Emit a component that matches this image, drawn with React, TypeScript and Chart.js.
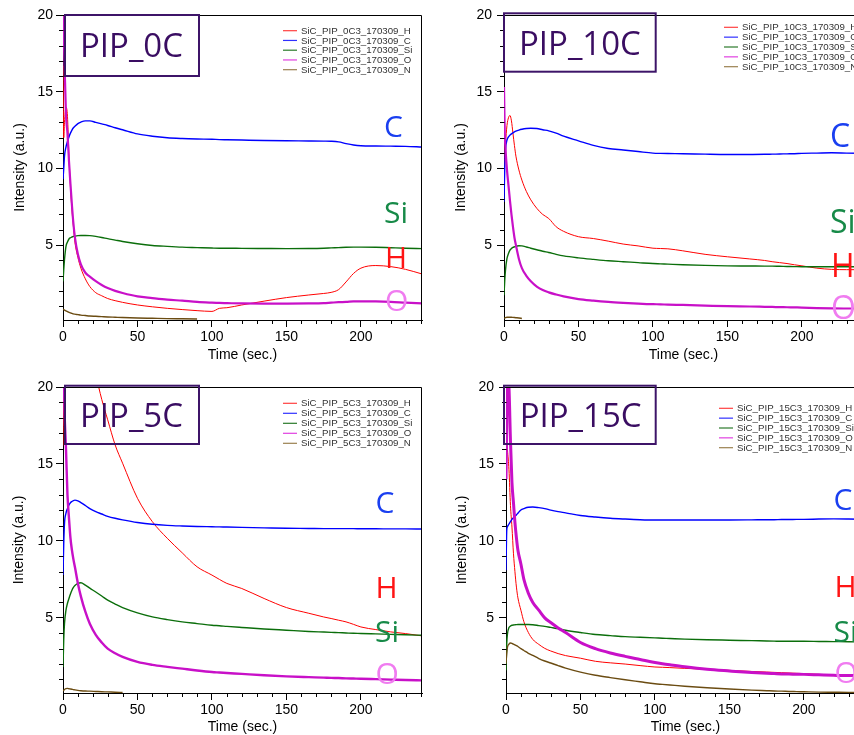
import React, { useEffect, useRef } from "react";
import { Chart, registerables } from "chart.js";
Chart.register(...registerables);

// ---------- data ----------
const TIME = [0, 0.5, 1, 2, 3, 4, 5, 6, 7, 8, 10, 12, 15, 18, 22, 26, 30, 35, 40, 50, 60, 70, 80, 90, 100, 105, 110, 120, 135, 150, 165, 175, 180, 185, 190, 195, 200, 210, 220, 230, 241];

const H_0C = [16.7, 12.0, 13.0, 14.0, 13.4, 10.8, 8.8, 7.3, 6.2, 5.2, 4.2, 3.5, 2.8, 2.3, 1.9, 1.7, 1.52, 1.38, 1.27, 1.1, 0.98, 0.88, 0.8, 0.73, 0.68, 0.88, 0.92, 1.1, 1.35, 1.58, 1.75, 1.85, 1.92, 2.1, 2.6, 3.15, 3.5, 3.67, 3.6, 3.42, 3.12];
const C_0C = [9.3, 10.0, 10.8, 11.4, 11.75, 12.05, 12.3, 12.5, 12.65, 12.75, 12.92, 13.02, 13.1, 13.1, 13.0, 12.9, 12.8, 12.65, 12.52, 12.25, 12.1, 12.0, 11.95, 11.92, 11.9, 11.88, 11.87, 11.85, 11.82, 11.8, 11.79, 11.78, 11.77, 11.73, 11.62, 11.53, 11.48, 11.46, 11.45, 11.44, 11.4];
const SI_0C = [2.64, 3.4, 4.05, 4.92, 5.2, 5.4, 5.48, 5.53, 5.57, 5.59, 5.62, 5.63, 5.63, 5.62, 5.57, 5.5, 5.42, 5.33, 5.24, 5.09, 4.98, 4.92, 4.87, 4.84, 4.81, 4.8, 4.8, 4.79, 4.78, 4.77, 4.78, 4.8, 4.82, 4.84, 4.86, 4.87, 4.87, 4.86, 4.83, 4.8, 4.77];
const O_0C = [21, 19, 17, 13.5, 12.3, 10.5, 9.0, 7.6, 6.4, 5.5, 4.4, 3.75, 3.2, 2.95, 2.65, 2.4, 2.2, 2.02, 1.88, 1.66, 1.55, 1.45, 1.38, 1.3, 1.25, 1.23, 1.22, 1.2, 1.19, 1.19, 1.2, 1.22, 1.25, 1.28, 1.3, 1.33, 1.34, 1.33, 1.3, 1.25, 1.2];
const N_0C = [0.84, 0.8, 0.77, 0.72, 0.67, 0.62, 0.58, 0.55, 0.52, 0.5, 0.47, 0.44, 0.41, 0.38, 0.36, 0.34, 0.32, 0.3, 0.28, 0.25, 0.23, 0.21, 0.2, 0.19, null, null, null, null, null, null, null, null, null, null, null, null, null, null, null, null, null];

const H_10C = [10.2, 10.8, 11.6, 12.8, 13.3, 13.45, 13.1, 12.3, 11.5, 10.8, 9.9, 9.24, 8.5, 7.95, 7.4, 7.0, 6.74, 6.2, 5.9, 5.55, 5.43, 5.26, 5.07, 4.95, 4.8, 4.78, 4.76, 4.63, 4.4, 4.24, 4.1, 4.0, 3.92, 3.86, 3.8, 3.72, 3.65, 3.5, 3.42, 3.4, 3.4];
const C_10C = [7.83, 10.0, 11.2, 11.85, 12.05, 12.17, 12.25, 12.32, 12.38, 12.43, 12.5, 12.55, 12.6, 12.62, 12.6, 12.52, 12.45, 12.3, 12.1, 11.8, 11.5, 11.3, 11.2, 11.1, 11.0, 10.98, 10.97, 10.96, 10.93, 10.91, 10.91, 10.92, 10.93, 10.94, 10.95, 10.96, 10.98, 11.0, 11.02, 11.0, 10.98];
const SI_10C = [1.74, 2.7, 3.37, 4.13, 4.45, 4.67, 4.78, 4.85, 4.89, 4.93, 4.96, 4.95, 4.88, 4.8, 4.7, 4.6, 4.52, 4.4, 4.3, 4.17, 4.07, 3.98, 3.92, 3.86, 3.8, 3.78, 3.76, 3.72, 3.68, 3.65, 3.64, 3.63, 3.63, 3.62, 3.61, 3.6, 3.59, 3.59, 3.59, 3.59, 3.59];
const O_10C = [15.3, 12.3, 11.3, 9.9, 8.9, 7.9, 7.0, 6.2, 5.5, 5.0, 4.1, 3.5, 3.0, 2.65, 2.3, 2.07, 1.92, 1.78, 1.66, 1.48, 1.38, 1.3, 1.24, 1.19, 1.15, 1.14, 1.12, 1.1, 1.06, 1.02, 1.0, 0.98, 0.97, 0.96, 0.95, 0.94, 0.93, 0.9, 0.88, 0.87, 0.87];
const N_10C = [0.22, 0.25, 0.28, 0.3, 0.3, 0.3, 0.3, 0.29, 0.28, 0.27, 0.25, 0.22, null, null, null, null, null, null, null, null, null, null, null, null, null, null, null, null, null, null, null, null, null, null, null, null, null, null, null, null, null];

const H_5C = [16.2, 21, 24, 26, 27, 27.5, 27.5, 27.3, 27.0, 26.6, 25.8, 25.0, 23.8, 22.5, 20.8, 19.2, 17.87, 16.24, 15.05, 12.77, 11.25, 10.17, 9.23, 8.32, 7.78, 7.5, 7.24, 6.91, 6.26, 5.67, 5.3, 5.06, 4.96, 4.85, 4.74, 4.58, 4.41, 4.24, 4.09, 3.98, 3.83];
const C_5C = [7.78, 9.84, 11.14, 11.8, 12.1, 12.34, 12.48, 12.56, 12.62, 12.65, 12.6, 12.49, 12.3, 12.1, 11.9, 11.75, 11.6, 11.47, 11.37, 11.2, 11.08, 11.01, 10.97, 10.94, 10.92, 10.91, 10.9, 10.88, 10.85, 10.82, 10.81, 10.8, 10.8, 10.8, 10.8, 10.8, 10.79, 10.79, 10.78, 10.78, 10.77];
const SI_5C = [1.81, 3.6, 4.63, 5.5, 5.95, 6.26, 6.55, 6.8, 6.98, 7.1, 7.24, 7.28, 7.13, 6.93, 6.68, 6.42, 6.15, 5.9, 5.67, 5.33, 5.07, 4.89, 4.74, 4.63, 4.52, 4.49, 4.45, 4.38, 4.28, 4.2, 4.12, 4.08, 4.06, 4.04, 4.02, 4.0, 3.99, 3.96, 3.93, 3.9, 3.87];
const O_5C = [24, 21, 18.5, 16.0, 13.0, 11.5, 10.2, 9.4, 8.8, 8.3, 7.24, 6.4, 5.4, 4.62, 3.9, 3.4, 3.0, 2.7, 2.46, 2.14, 1.95, 1.82, 1.7, 1.58, 1.48, 1.45, 1.42, 1.36, 1.27, 1.2, 1.15, 1.12, 1.1, 1.09, 1.07, 1.06, 1.05, 1.02, 0.99, 0.96, 0.94];
const N_5C = [0.25, 0.3, 0.35, 0.4, 0.42, 0.4, 0.38, 0.36, 0.34, 0.32, 0.29, 0.27, 0.25, 0.24, 0.22, 0.2, 0.19, 0.17, 0.16, null, null, null, null, null, null, null, null, null, null, null, null, null, null, null, null, null, null, null, null, null, null];

const H_15C = [14.83, 16.68, 15.92, 14.62, 12.3, 10.9, 9.2, 8.0, 7.0, 6.3, 5.5, 4.75, 4.05, 3.6, 3.28, 3.02, 2.85, 2.68, 2.55, 2.38, 2.18, 2.08, 2.0, 1.9, 1.81, 1.79, 1.77, 1.72, 1.66, 1.59, 1.52, 1.48, 1.46, 1.44, 1.42, 1.4, 1.38, 1.33, 1.28, 1.27, 1.27];
const C_15C = [8.1, 10.7, 10.93, 11.1, 11.25, 11.4, 11.5, 11.6, 11.69, 11.8, 12.01, 12.1, 12.19, 12.2, 12.16, 12.1, 12.0, 11.9, 11.82, 11.65, 11.55, 11.47, 11.42, 11.38, 11.36, 11.36, 11.36, 11.36, 11.36, 11.36, 11.37, 11.38, 11.38, 11.39, 11.39, 11.4, 11.4, 11.42, 11.43, 11.42, 11.4];
const SI_15C = [1.59, 3.33, 3.98, 4.37, 4.47, 4.52, 4.54, 4.55, 4.56, 4.57, 4.57, 4.57, 4.57, 4.55, 4.5, 4.45, 4.38, 4.3, 4.2, 4.05, 3.92, 3.85, 3.78, 3.74, 3.7, 3.68, 3.66, 3.62, 3.58, 3.55, 3.52, 3.5, 3.49, 3.48, 3.48, 3.48, 3.48, 3.47, 3.46, 3.45, 3.44];
const O_15C = [14, 18, 21, 20, 16.5, 13.8, 12.5, 11.2, 10.2, 9.4, 8.5, 7.5, 6.6, 6.0, 5.5, 5.0, 4.7, 4.35, 4.05, 3.4, 3.0, 2.72, 2.5, 2.3, 2.1, 2.02, 1.95, 1.82, 1.66, 1.55, 1.45, 1.4, 1.38, 1.36, 1.35, 1.34, 1.33, 1.3, 1.27, 1.25, 1.28];
const N_15C = [2.03, 2.7, 3.11, 3.3, 3.37, 3.35, 3.29, 3.24, 3.19, 3.14, 3.0, 2.88, 2.7, 2.56, 2.36, 2.2, 2.07, 1.9, 1.74, 1.48, 1.27, 1.12, 0.98, 0.85, 0.72, 0.68, 0.64, 0.56, 0.46, 0.38, 0.31, 0.27, 0.25, 0.24, 0.22, 0.21, 0.2, 0.18, 0.17, 0.16, 0.16];

const ELEMENTS = ["H", "C", "Si", "O", "N"];
const X_MAJOR = [0, 50, 100, 150, 200];
const Y_MAJOR = [5, 10, 15, 20];
const X_MINOR = [10, 20, 30, 40, 60, 70, 80, 90, 110, 120, 130, 140, 160, 170, 180, 190, 210, 220, 230, 240];
const Y_MINOR = [1, 2, 3, 4, 6, 7, 8, 9, 11, 12, 13, 14, 16, 17, 18, 19];
const X_RANGE = [0, 241];
const Y_RANGE = [0.12, 20];

// ---------- styles ----------
const LINE_COLORS = ["#ff0000", "#0000ff", "#0b6e0b", "#c810c8", "#6b4c12"];
const LEGEND_COLORS = ["#ff4040", "#3030ff", "#2a7a2a", "#e040e0", "#9a8050"];
const LABEL_COLORS: Record<string, string> = { C: "#1a3ff0", Si: "#178a48", H: "#ff1414", O: "#f07cf0" };
const SANS = '"Liberation Sans", Arial, Helvetica, sans-serif';
const TITLE_FONT = '"Open Sans", "Noto Sans", sans-serif';

type Panel = {
  code: string;
  series: (number | null)[][];
  widths: number[];
  left: number; top: number; w: number; h: number;
  area: { l: number; t: number; r: number; b: number };
  yTitlePad: number; xTitlePad: number; yTickPad: number;
  box: { x: number; y: number; w: number; h: number; tx: number; ty: number };
  legend: { x: number; y: number; dy: number };
  labelSize: number;
  labels: { text: string; x: number; y: number }[];
};

const PANELS: Panel[] = [
  {
    code: "0C", series: [H_0C, C_0C, SI_0C, O_0C, N_0C], widths: [1, 1.4, 1.4, 2.2, 1.4],
    left: 0, top: 0, w: 427, h: 368, area: { l: 63, t: 15, r: 422, b: 320 },
    yTitlePad: 11.6, xTitlePad: 4.1, yTickPad: 3,
    box: { x: 65, y: 15, w: 134, h: 61, tx: 80, ty: 57.3 },
    legend: { x: 283, y: 30.7, dy: 9.75 },
    labelSize: 30,
    labels: [{ text: "C", x: 384, y: 137 }, { text: "Si", x: 384, y: 223 }, { text: "H", x: 385, y: 268 }, { text: "O", x: 385, y: 311 }],
  },
  {
    code: "10C", series: [H_10C, C_10C, SI_10C, O_10C, N_10C], widths: [1, 1.4, 1.4, 2.2, 1.4],
    left: 427, top: 0, w: 450, h: 368, area: { l: 77, t: 15, r: 436, b: 320 },
    yTitlePad: 25.3, xTitlePad: 4.1, yTickPad: 5,
    box: { x: 77, y: 13.3, w: 151.7, h: 58.4, tx: 92, ty: 55 },
    legend: { x: 297, y: 27.3, dy: 9.85 },
    labelSize: 32,
    labels: [{ text: "C", x: 403, y: 146.7 }, { text: "Si", x: 403, y: 233.3 }, { text: "H", x: 404, y: 276.7 }, { text: "O", x: 404, y: 319 }],
  },
  {
    code: "5C", series: [H_5C, C_5C, SI_5C, O_5C, N_5C], widths: [1, 1.4, 1.4, 2.4, 1.4],
    left: 0, top: 372, w: 427, h: 368, area: { l: 63, t: 15, r: 422, b: 321 },
    yTitlePad: 10.8, xTitlePad: 4.1, yTickPad: 3,
    box: { x: 65, y: 13.7, w: 134, h: 58.3, tx: 80, ty: 54.7 },
    legend: { x: 283, y: 31.3, dy: 10 },
    labelSize: 30,
    labels: [{ text: "C", x: 375.5, y: 141.3 }, { text: "H", x: 375.5, y: 226.3 }, { text: "Si", x: 375, y: 269.7 }, { text: "O", x: 375.5, y: 312 }],
  },
  {
    code: "15C", series: [H_15C, C_15C, SI_15C, O_15C, N_15C], widths: [1, 1.4, 1.4, 3, 1.4],
    left: 429, top: 372, w: 450, h: 368, area: { l: 77, t: 15, r: 436, b: 321 },
    yTitlePad: 24.9, xTitlePad: 4.1, yTickPad: 5,
    box: { x: 75, y: 13.7, w: 151.7, h: 58.3, tx: 90.7, ty: 54.7 },
    legend: { x: 290, y: 36.3, dy: 9.85 },
    labelSize: 30,
    labels: [{ text: "C", x: 404.5, y: 138 }, { text: "H", x: 405.5, y: 224.7 }, { text: "Si", x: 404.5, y: 269.7 }, { text: "O", x: 405.5, y: 311.3 }],
  },
];

function makeDecor(p: Panel) {
  return {
    id: "decor" + p.code,
    afterDraw(chart: any) {
      const { ctx, chartArea: a, scales } = chart;
      const xs = scales.x;
      const ys = scales.y;
      ctx.save();
      // frame (top + right)
      ctx.strokeStyle = "#000";
      ctx.lineWidth = 1;
      ctx.beginPath();
      const top = Math.round(a.top) + 0.5;
      const right = Math.round(a.right) - 0.5;
      ctx.moveTo(a.left, top);
      ctx.lineTo(right, top);
      ctx.lineTo(right, a.bottom);
      ctx.stroke();
      // minor ticks
      ctx.beginPath();
      for (const v of Y_MINOR) {
        const py = Math.round(ys.getPixelForValue(v)) + 0.5;
        ctx.moveTo(a.left - 4, py);
        ctx.lineTo(a.left + 0.5, py);
      }
      for (const v of X_MINOR) {
        const px = Math.round(xs.getPixelForValue(v)) + 0.5;
        ctx.moveTo(px, a.bottom);
        ctx.lineTo(px, a.bottom + 4);
      }
      ctx.stroke();
      // title box
      ctx.strokeStyle = "#3d1468";
      ctx.lineWidth = 2;
      ctx.strokeRect(p.box.x, p.box.y, p.box.w, p.box.h);
      ctx.fillStyle = "#3a0d62";
      ctx.font = `33px ${TITLE_FONT}`;
      ctx.textAlign = "left";
      ctx.textBaseline = "alphabetic";
      ctx.fillText("PIP_" + p.code, p.box.tx, p.box.ty);
      // legend
      ctx.font = `9.7px ${SANS}`;
      ctx.textBaseline = "middle";
      ELEMENTS.forEach((el, i) => {
        const y = p.legend.y + i * p.legend.dy;
        ctx.strokeStyle = LEGEND_COLORS[i];
        ctx.lineWidth = 1.2;
        ctx.beginPath();
        ctx.moveTo(p.legend.x, y);
        ctx.lineTo(p.legend.x + 14, y);
        ctx.stroke();
        ctx.fillStyle = "#333";
        ctx.fillText(`SiC_PIP_${p.code}3_170309_${el}`, p.legend.x + 18, y + 0.5);
      });
      // element labels
      ctx.font = `${p.labelSize}px ${TITLE_FONT}`;
      ctx.textBaseline = "alphabetic";
      for (const lb of p.labels) {
        ctx.fillStyle = LABEL_COLORS[lb.text];
        ctx.fillText(lb.text, lb.x, lb.y);
      }
      ctx.restore();
    },
  };
}

function PanelChart({ p }: { p: Panel }) {
  const ref = useRef<HTMLCanvasElement>(null);
  useEffect(() => {
    const datasets = ELEMENTS.map((el, i) => ({
      label: `SiC_PIP_${p.code}3_170309_${el}`,
      data: TIME.map((t, k) => ({ x: t, y: p.series[i][k] })),
      borderColor: LINE_COLORS[i],
      backgroundColor: LINE_COLORS[i],
      borderWidth: p.widths[i],
      pointRadius: 0,
      fill: false,
      cubicInterpolationMode: "monotone" as const,
      spanGaps: false,
    })).reverse();
    const axisFont = { family: SANS, size: 14 };
    const chart = new Chart(ref.current as HTMLCanvasElement, {
      type: "line",
      data: { datasets: datasets as any },
      options: {
        responsive: false,
        animation: false,
        events: [],
        layout: { padding: { top: p.area.t, right: p.w - p.area.r, bottom: 0, left: 0 } },
        plugins: { legend: { display: false }, tooltip: { enabled: false } },
        scales: {
          x: {
            type: "linear",
            min: X_RANGE[0],
            max: X_RANGE[1],
            afterFit: (s: any) => { s.height = p.h - p.area.b; },
            afterBuildTicks: (s: any) => { s.ticks = X_MAJOR.map((v) => ({ value: v })); },
            grid: { drawOnChartArea: false, drawTicks: true, tickLength: 7, tickColor: "#000", tickWidth: 1 },
            border: { display: true, color: "#000", width: 1 },
            ticks: { color: "#000", font: axisFont, padding: 2, maxRotation: 0, autoSkip: false },
            title: { display: true, text: "Time (sec.)", color: "#000", font: axisFont, padding: { top: 0, bottom: p.xTitlePad } },
          },
          y: {
            type: "linear",
            min: Y_RANGE[0],
            max: Y_RANGE[1],
            afterFit: (s: any) => { s.width = p.area.l; },
            afterBuildTicks: (s: any) => { s.ticks = Y_MAJOR.map((v) => ({ value: v })); },
            grid: { drawOnChartArea: false, drawTicks: true, tickLength: 7, tickColor: "#000", tickWidth: 1 },
            border: { display: true, color: "#000", width: 1 },
            ticks: { color: "#000", font: axisFont, padding: p.yTickPad, autoSkip: false },
            title: { display: true, text: "Intensity (a.u.)", color: "#000", font: axisFont, padding: { top: p.yTitlePad, bottom: 0 } },
          },
        },
      },
      plugins: [makeDecor(p)],
    } as any);
    return () => chart.destroy();
  }, [p]);
  return (
    <canvas
      ref={ref}
      width={p.w}
      height={p.h}
      style={{ position: "absolute", left: p.left, top: p.top, width: p.w, height: p.h }}
    />
  );
}

export default function App() {
  return (
    <div style={{ position: "fixed", left: 0, top: 0, width: 854, height: 735, overflow: "hidden", background: "#fff" }}>
      {PANELS.map((p) => (
        <PanelChart key={p.code} p={p} />
      ))}
    </div>
  );
}
